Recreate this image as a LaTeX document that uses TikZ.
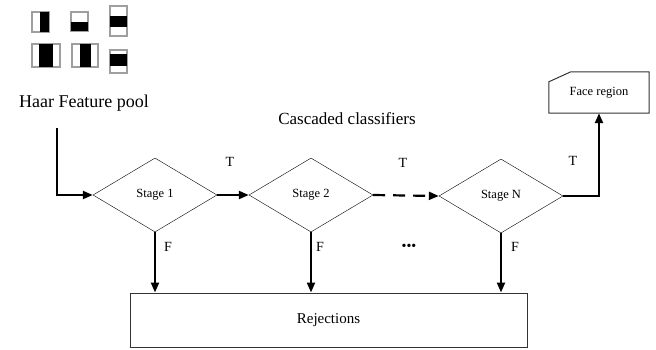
\documentclass[tikz,border=0pt]{standalone}
\usepackage{fontspec}
\setmainfont{Liberation Serif}
\usetikzlibrary{shapes.geometric,arrows.meta}

\begin{document}
\begin{tikzpicture}[x=1pt,y=-1pt,
    stagebox/.style={draw,thin,diamond,aspect=1.68,inner sep=0pt,
      minimum width=124pt,minimum height=74pt,font=\fontsize{12.5}{14}\selectfont},
    haarbox/.style={draw=gray!75,line width=1.2pt,fill=white},
    haarfill/.style={fill=black},
    flow/.style={line width=2.2pt,-{Triangle[length=10pt,width=8pt]}},
    lab/.style={font=\fontsize{14}{16}\selectfont}]
  \useasboundingbox (0,0) rectangle (656,349);

  % Haar feature pool
  \draw[haarbox] (32,12) rectangle (49,32);
  \fill[haarfill] (40,12) rectangle (49,32);
  \draw[haarbox] (71,12) rectangle (88,31);
  \fill[haarfill] (71,22) rectangle (88,31);
  \draw[haarbox] (110,6) rectangle (127,36);
  \fill[haarfill] (110,16) rectangle (127,27);
  \draw[haarbox] (32,44) rectangle (60,67);
  \fill[haarfill] (39,44) rectangle (53,67);
  \draw[haarbox] (72,44) rectangle (98,67);
  \fill[haarfill] (80,44) rectangle (91,67);
  \draw[haarbox] (110,50) rectangle (127,73);
  \fill[haarfill] (110,54) rectangle (127,66);
  \node[font=\fontsize{18}{20}\selectfont] (pool) at (84,103) {Haar Feature pool};
  \coordinate (in) at (57,128);

  % stages
  \node[font=\fontsize{17}{20}\selectfont] (title) at (347,119) {Cascaded classifiers};
  \node[stagebox] (s1) at (155,195) {Stage 1};
  \node[stagebox] (s2) at (311,195) {Stage 2};
  \node[stagebox] (sN) at (501,196) {Stage N};

  % face region and rejections
  \node[minimum width=100pt,minimum height=41pt,font=\fontsize{12.5}{14}\selectfont]
    (face) at (599,92.5) {Face region};
  \draw[line width=1pt,gray!40!black] (face.south west) -- (face.south east) -- (face.north east)
    -- ([xshift=22pt]face.north west) -- ([yshift=-10pt]face.north west) -- cycle;
  \node[draw=gray!40!black,line width=1pt,minimum width=397pt,minimum height=54pt,
    font=\fontsize{15}{17}\selectfont] (rej) at (328.5,320) {Rejections};

  % connectors
  \draw[flow] (in) |- (s1.west);
  \draw[flow] (s1.east) -- (s2.west);
  \draw[flow,dash pattern=on 12pt off 8pt] (s2.east) -- (sN.west);
  \draw[flow] (sN.east) -| (face.south);
  \foreach \s in {s1,s2,sN}
    \draw[flow] (\s.south) -- (\s.south |- rej.north);

  % labels
  \node[lab] (t1) at (230,162) {T};
  \node[lab] (t2) at (403,163) {T};
  \node[lab] (t3) at (573,161) {T};
  \node[lab] (f1) at (168,247) {F};
  \node[lab] (f2) at (320,247) {F};
  \node[lab] (f3) at (515,247) {F};
  \node[font=\fontsize{14}{16}\selectfont,inner sep=0pt] (dots) at (409,247) {•••};
\end{tikzpicture}
\end{document}
